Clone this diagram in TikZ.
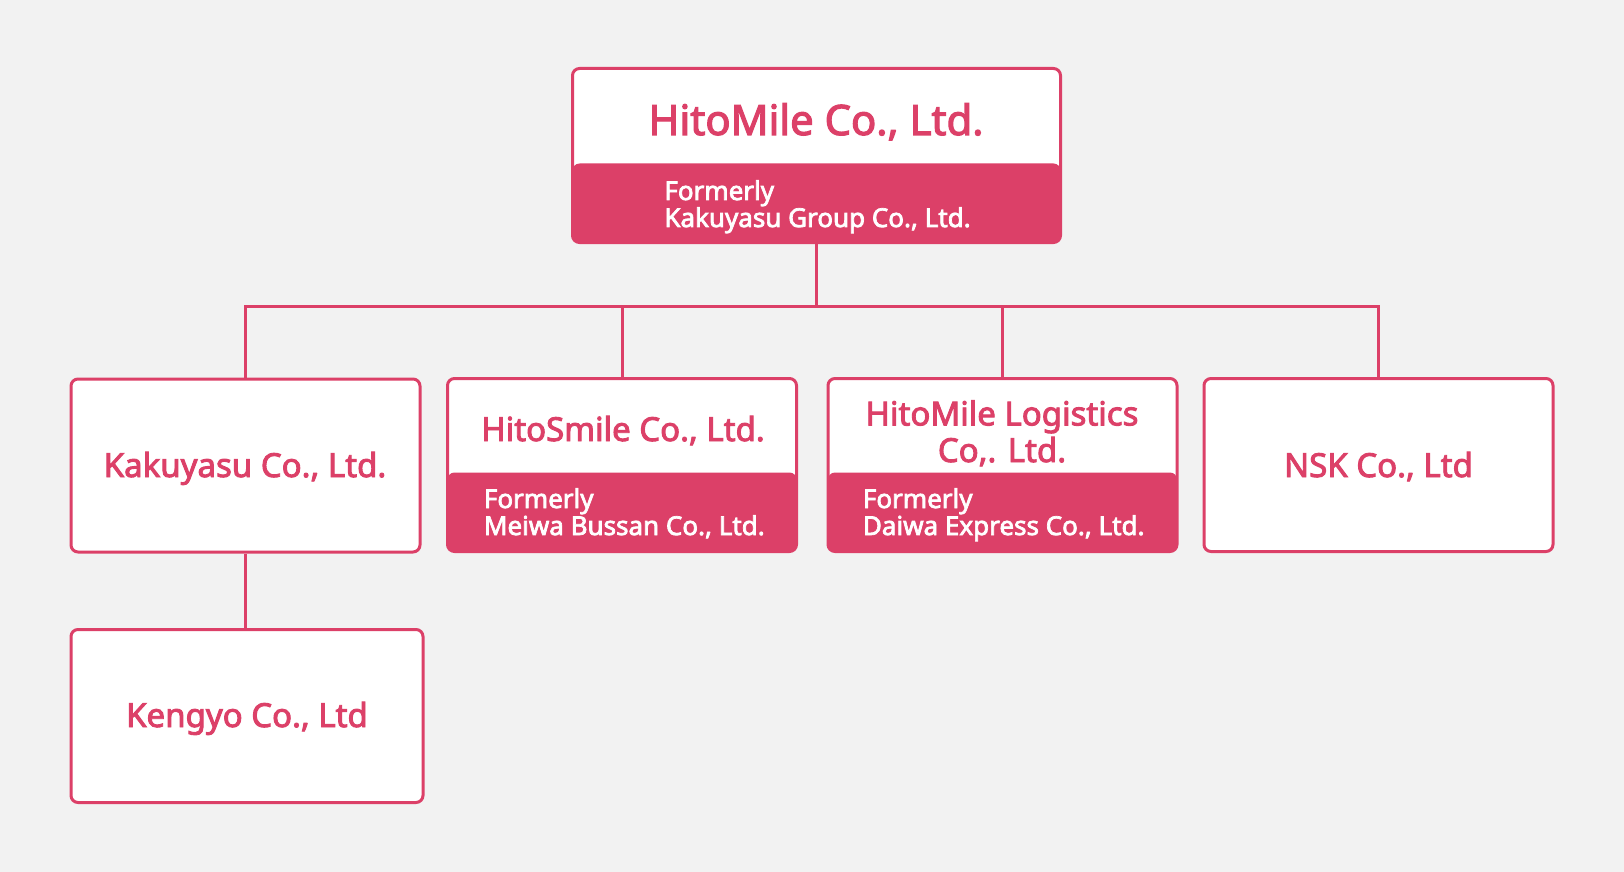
\documentclass[tikz,border=0pt]{standalone}
\usepackage{fontspec}
\setmainfont{Noto Sans}[AutoFakeBold=2.8]
\usetikzlibrary{positioning}
\definecolor{hmpink}{RGB}{220,64,104}
\definecolor{hmgray}{RGB}{242,242,242}

\begin{document}
\begin{tikzpicture}[x=0.5pt,y=-0.5pt,
  firm/.style={draw=hmpink,line width=1.5pt,fill=white,rounded corners=3.5pt,
    minimum width=174.5pt,minimum height=86.5pt,inner sep=0pt},
  former/.style={path picture={\fill[hmpink] (path picture bounding box.south west)
    rectangle ([yshift=39.5pt]path picture bounding box.south east);}},
  firmname/.style={text=hmpink,font=\bfseries\fontsize{16.5}{18.3}\selectfont,
    align=center,anchor=base,inner sep=0pt},
  oldname/.style={text=white,font=\bfseries\fontsize{13}{13.5}\selectfont,
    align=left,anchor=base west,inner sep=0pt},
  link/.style={draw=hmpink,line width=1.5pt}]
\fill[hmgray] (0,0) rectangle (1624,872);

% boxes
\node[firm,former,minimum width=244pt,minimum height=87pt] (co_top) at (816.5,155.5) {};
\node[firm] (co_kaku) at (245.5,465.5) {};
\node[firm,former] (co_smile) at (622,465) {};
\node[firm,former] (co_logi) at (1002.5,465) {};
\node[firm] (co_nsk) at (1378.5,465) {};
\node[firm,minimum width=176pt] (co_keng) at (247,716) {};

% names (base = last line)
\node[firmname,font=\bfseries\fontsize{20.9}{23}\selectfont] (t_top) at (816,135) {HitoMile Co., Ltd.};
\node[oldname] (o_top) at (664,227) {Formerly\\Kakuyasu Group Co., Ltd.};
\node[firmname] (t_kaku) at (245,477) {Kakuyasu Co., Ltd.};
\node[firmname] (t_smile) at (623,441) {HitoSmile Co., Ltd.};
\node[oldname] (o_smile) at (483.5,535) {Formerly\\Meiwa Bussan Co., Ltd.};
\node[firmname] (t_logi) at (1002,462) {HitoMile Logistics\\Co,. Ltd.};
\node[oldname] (o_logi) at (862.5,535) {Formerly\\Daiwa Express Co., Ltd.};
\node[firmname] (t_nsk) at (1378.5,477) {NSK Co., Ltd};
\node[firmname] (t_keng) at (247,727) {Kengyo Co., Ltd};

% lines
\coordinate (bus) at (816.5,306.5);
\draw[link] (co_kaku.north) |- (bus) -| (co_nsk.north);
\path[link]
(co_top.south) edge (bus)
(co_smile.north |- bus) edge (co_smile.north)
(co_logi.north |- bus) edge (co_logi.north)
(co_kaku.south) edge (co_kaku.south |- co_keng.north)
; %end path
\end{tikzpicture}
\end{document}
